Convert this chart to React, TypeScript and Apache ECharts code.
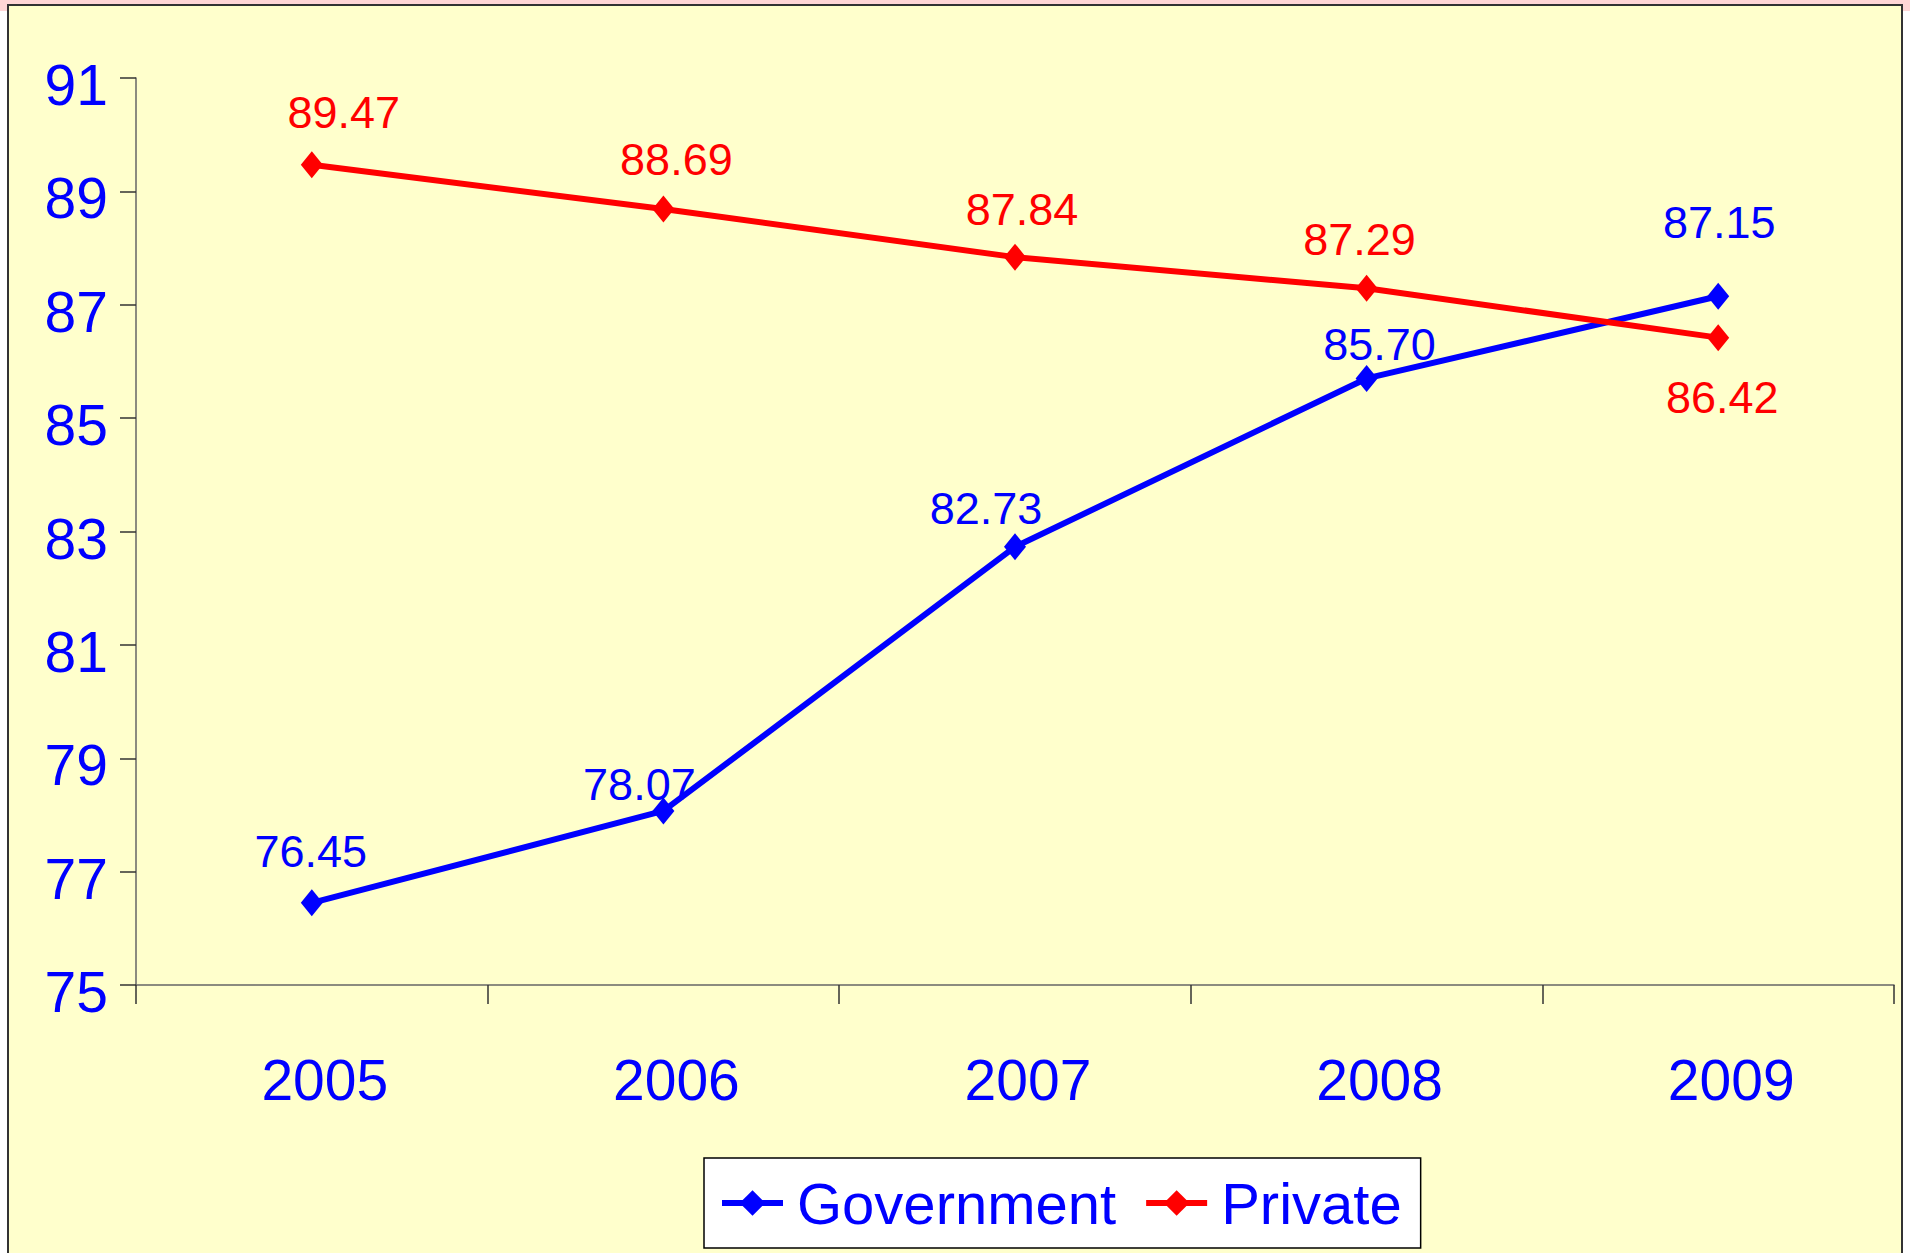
import React, { useEffect, useRef } from "react";
import * as echarts from "echarts";

const years = ["2005", "2006", "2007", "2008", "2009"];
const government = [76.45, 78.07, 82.73, 85.7, 87.15];
const privateVals = [89.47, 88.69, 87.84, 87.29, 86.42];
const yTicks = { min: 75, max: 91, interval: 2 };
const govLabelOffsets = [[-1, -51], [-24, -26], [-29, -38], [13, -34], [1, -74]];
const privLabelOffsets = [[32, -52], [13, -49], [7, -48], [-7, -49], [4, 60]];

const FONT = "'Liberation Sans', Arial, sans-serif";
const BLUE = "#0000FF";
const RED = "#FF0000";

export default function App() {
  const ref = useRef<HTMLDivElement>(null);
  useEffect(() => {
    if (!ref.current) return;
    const chart = echarts.init(ref.current, null, { renderer: "svg" });
    const mkData = (vals: number[], offs: number[][], color: string) =>
      vals.map((v, i) => ({
        value: v,
        label: {
          show: true,
          position: "inside",
          offset: offs[i],
          formatter: v.toFixed(2),
          color,
          fontSize: 45,
          fontFamily: FONT,
          align: "center",
          verticalAlign: "middle",
        },
      }));
    chart.setOption({
      animation: false,
      backgroundColor: "#ffffff",
      graphic: [
        { type: "rect", z: -10, shape: { x: 0, y: 0, width: 1910, height: 11 }, style: { fill: "#FFD6D6" }, silent: true },
        {
          type: "rect",
          z: -9,
          shape: { x: 8, y: 5, width: 1894, height: 1260 },
          style: { fill: "#FFFFCC", stroke: "#333333", lineWidth: 2 },
          silent: true,
        },
      ],
      grid: { left: 136, right: 16, top: 78, bottom: 268, containLabel: false },
      xAxis: {
        type: "category",
        data: years,
        boundaryGap: true,
        axisLine: { show: true, lineStyle: { color: "#666666", width: 1.5 } },
        axisTick: { show: true, length: 19, alignWithLabel: false, lineStyle: { color: "#333333", width: 1.5 } },
        axisLabel: {
          color: BLUE,
          fontSize: 57,
          fontFamily: FONT,
          margin: 66,
          padding: [0, 0, 0, 26],
        },
        splitLine: { show: false },
      },
      yAxis: {
        type: "value",
        min: yTicks.min,
        max: yTicks.max,
        interval: yTicks.interval,
        axisLine: { show: true, lineStyle: { color: "#666666", width: 1.5 } },
        axisTick: { show: true, inside: false, length: 16, lineStyle: { color: "#333333", width: 1.5 } },
        axisLabel: {
          margin: 28,
          formatter: (v: number) => `{a|${v}}`,
          rich: {
            a: {
              color: BLUE,
              fontSize: 57,
              fontFamily: FONT,
              padding: [14, 0, 0, 0],
            },
          },
        },
        splitLine: { show: false },
      },
      legend: {
        left: 704,
        top: 1158,
        orient: "horizontal",
        backgroundColor: "#ffffff",
        borderColor: "#000000",
        borderWidth: 1.5,
        borderRadius: 0,
        padding: [16, 19, 16, 15],
        itemWidth: 61,
        itemHeight: 32,
        itemGap: 27,
        lineStyle: { width: 6 },
        textStyle: { fontSize: 58, color: BLUE, fontFamily: FONT, padding: [0, 0, 0, 9] },
        data: ["Government", "Private"],
      },
      series: [
        {
          name: "Government",
          type: "line",
          data: mkData(government, govLabelOffsets, BLUE),
          symbol: "diamond",
          symbolSize: [22, 27],
          lineStyle: { color: BLUE, width: 6 },
          itemStyle: { color: BLUE },
          z: 2,
        },
        {
          name: "Private",
          type: "line",
          data: mkData(privateVals, privLabelOffsets, RED),
          symbol: "diamond",
          symbolSize: [22, 27],
          lineStyle: { color: RED, width: 6 },
          itemStyle: { color: RED },
          z: 3,
        },
      ],
    });
    return () => chart.dispose();
  }, []);
  return (
    <div
      ref={ref}
      style={{ position: "absolute", left: 0, top: 0, width: 1910, height: 1253 }}
    />
  );
}
